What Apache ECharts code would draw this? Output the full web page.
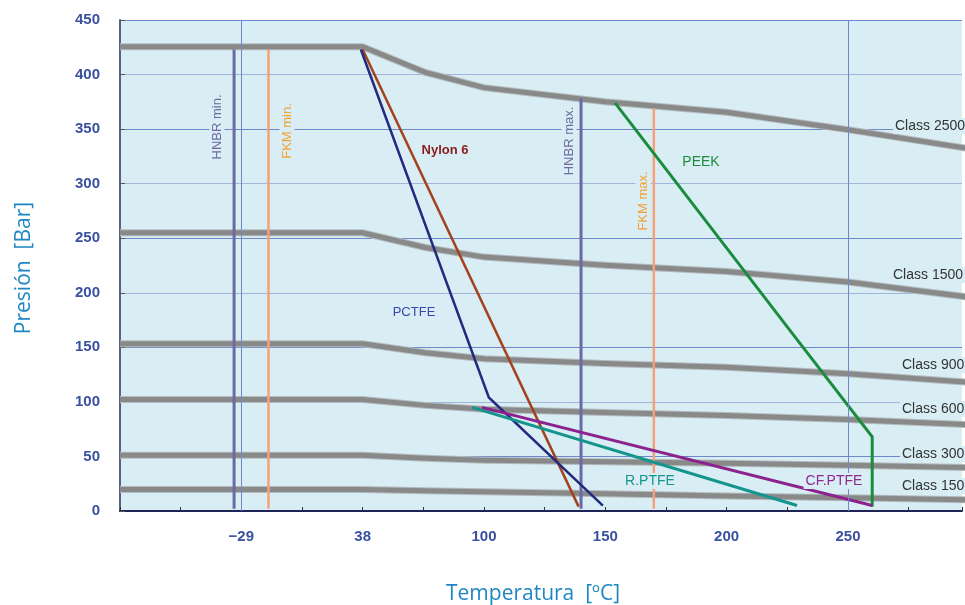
<!DOCTYPE html>
<html><head><meta charset="utf-8">
<script src="https://cdn.jsdelivr.net/npm/echarts@6/dist/echarts.min.js"></script>
<style>html,body{margin:0;padding:0;background:#fff}#c{width:965px;height:605px}</style>
</head><body><div id="c"></div>
<script>
// ---- data ----
const tickTemps = [-29, 38, 100, 150, 200, 250];
const tickLabels = ['\u221229', '38', '100', '150', '200', '250'];
const classTemps = [-96, 38, 70, 100, 150, 200, 250, 300];
const class2500 = [425.5, 425.5, 402, 388, 375, 365.5, 349.5, 332];
const class1500 = [255, 255, 241.5, 232.7, 225.2, 219.4, 209.9, 196];
const class900 = [153.2, 153.2, 145, 139.6, 135.2, 131.8, 125.8, 118];
const class600 = [102.1, 102.1, 96.8, 93.2, 90.2, 87.6, 83.9, 79];
const class300 = [51.1, 51.1, 48.4, 46.6, 45.1, 43.8, 41.9, 39.8];
const class150 = [19.6, 19.6, 18.6, 17.7, 15.8, 13.8, 12.1, 10.2];
const classNames = ['Class 2500', 'Class 1500', 'Class 900', 'Class 600', 'Class 300', 'Class 150'];
const nylon6 = [[38, 423], [139, 4]];
const pctfe = [[37, 423], [102, 104], [149, 5]];
const peek = [[154, 374], [228, 160], [260, 68], [260, 4]];
const rptfe = [[94, 95], [229, 5]];
const cfptfe = [[99, 95], [260, 5]];
const hnbrMin = [[-33, 2], [-33, 423]];
const fkmMin = [[-14, 2], [-14, 423]];
const hnbrMax = [[140, 2], [140, 378]];
const fkmMax = [[170, 2], [170, 369]];
const gridTemps = [-29, 250];

// piecewise axis position (tick slots are equally spaced)
function toAxis(t) {
  const n = tickTemps.length;
  if (t <= tickTemps[1]) return 1 + (t - tickTemps[0]) / (tickTemps[1] - tickTemps[0]);
  for (let i = 1; i < n - 1; i++) {
    if (t <= tickTemps[i + 1]) return (i + 1) + (t - tickTemps[i]) / (tickTemps[i + 1] - tickTemps[i]);
  }
  return n + (t - tickTemps[n - 1]) / (tickTemps[n - 1] - tickTemps[n - 2]);
}
const pts = arr => arr.map(p => [toAxis(p[0]), p[1]]);
const classPts = vals => vals.map((v, i) => [toAxis(classTemps[i]), v]);

const chart = echarts.init(document.getElementById('c'));
const BG = '#d8eef4';
function lineS(data, color, width, z) {
  return { type: 'line', data: data, symbol: 'none', silent: true, z: z || 3,
    lineStyle: { color: color, width: width, cap: 'butt', join: 'miter' }, animation: false };
}
const classSeries = [];
[class2500, class1500, class900, class600, class300, class150].forEach(v => {
  classSeries.push(lineS(classPts(v), '#b4bcbf', 7, 2));
  classSeries.push(lineS(classPts(v), '#898989', 5, 2));
});

const series = [
  { type: 'line', data: [], silent: true, z: 1, animation: false,
    markLine: { symbol: 'none', silent: true, animation: false, label: { show: false },
      lineStyle: { color: '#6f88cc', width: 1, type: 'solid' },
      data: gridTemps.map(t => ({ xAxis: toAxis(t) })) } },
  ...classSeries,
  lineS(pts(hnbrMin), '#6b69a6', 3),
  lineS(pts(fkmMin), '#f5a07a', 2.5),
  lineS(pts(hnbrMax), '#6b69a6', 3),
  lineS(pts(fkmMax), '#f5a07a', 2.5),
  lineS(pts(nylon6), '#a3421c', 2.5),
  lineS(pts(pctfe), '#232a80', 2.5),
  lineS(pts(peek), '#1b8c3e', 3),
  lineS(pts(rptfe), '#13948d', 3),
  lineS(pts(cfptfe), '#8c228e', 3)
];

function txt(text, x, y, color, opts) {
  opts = opts || {};
  return { type: 'text', z: 100, x: x, y: y, rotation: opts.rot || 0, silent: true,
    style: { text: text, fill: color, font: (opts.weight || 'normal') + ' ' + (opts.size || 13) + 'px "Liberation Sans", Arial, sans-serif',
      textAlign: opts.align || 'center', textVerticalAlign: 'middle',
      backgroundColor: BG, padding: [1, 2, 1, 2] } };
}
const R = Math.PI / 2;
const graphics = [
  txt('HNBR min.', 217, 127, '#6e6ca0', { rot: R }),
  txt('FKM min.', 287, 131, '#f5a030', { rot: R }),
  txt('HNBR max.', 569, 141, '#6e6ca0', { rot: R }),
  txt('FKM max.', 643, 201, '#f5a030', { rot: R }),
  txt('Nylon 6', 445, 150, '#8a1c1c', { weight: 'bold' }),
  txt('PCTFE', 414, 312, '#3a48a8'),
  txt('PEEK', 701, 162, '#1e8c3c', { size: 14 }),
  txt('R.PTFE', 650, 481, '#17958e', { size: 14 }),
  txt('CF.PTFE', 834, 481, '#8c2a90', { size: 14 }),
  txt(classNames[0], 893, 126, '#333', { align: 'left', size: 14 }),
  txt(classNames[1], 891, 275, '#333', { align: 'left', size: 14 }),
  txt(classNames[2], 900, 365, '#333', { align: 'left', size: 14 }),
  txt(classNames[3], 900, 409, '#333', { align: 'left', size: 14 }),
  txt(classNames[4], 900, 454, '#333', { align: 'left', size: 14 }),
  txt(classNames[5], 900, 486, '#333', { align: 'left', size: 14 }),
  { type: 'text', z: 100, x: 533, y: 594, silent: true,
    style: { text: 'Temperatura  [\u00baC]', fill: '#1d87c4', font: '21px "Open Sans", "Noto Sans", sans-serif',
      textAlign: 'center', textVerticalAlign: 'middle' } },
  { type: 'text', z: 100, x: 24, y: 268, rotation: R, silent: true,
    style: { text: 'Presi\u00f3n  [Bar]', fill: '#1d87c4', font: '21px "Open Sans", "Noto Sans", sans-serif',
      textAlign: 'center', textVerticalAlign: 'middle' } }
];

chart.setOption({
  animation: false,
  backgroundColor: '#ffffff',
  grid: { left: 120, right: 0, top: 20, bottom: 94, show: true, backgroundColor: BG, borderWidth: 0 },
  xAxis: {
    type: 'value', min: 0, max: 6.94, interval: 0.5,
    axisLine: { show: true, lineStyle: { color: '#1e2456', width: 2 } },
    axisTick: { show: true, inside: true, length: 4, lineStyle: { color: '#333', width: 1 } },
    splitLine: { show: false },
    axisLabel: { margin: 18, color: '#3a50a0', fontWeight: 'bold', fontSize: 15,
      fontFamily: '"Liberation Sans", Arial, sans-serif',
      formatter: v => (Math.abs(v - Math.round(v)) < 1e-6 && v >= 1 && v <= tickLabels.length) ? tickLabels[Math.round(v) - 1] : '' }
  },
  yAxis: {
    type: 'value', min: 0, max: 450, interval: 50,
    axisLine: { show: true, lineStyle: { color: '#5a6084', width: 2 } },
    axisTick: { show: true, inside: true, length: 5, lineStyle: { color: '#555', width: 1 } },
    splitLine: { show: true, lineStyle: { color: ['#a2b5da', '#6f88cc'], width: 1 } },
    axisLabel: { margin: 20, color: '#3a50a0', fontWeight: 'bold', fontSize: 15,
      fontFamily: '"Liberation Sans", Arial, sans-serif' }
  },
  series: series,
  graphic: graphics
});
</script></body></html>
